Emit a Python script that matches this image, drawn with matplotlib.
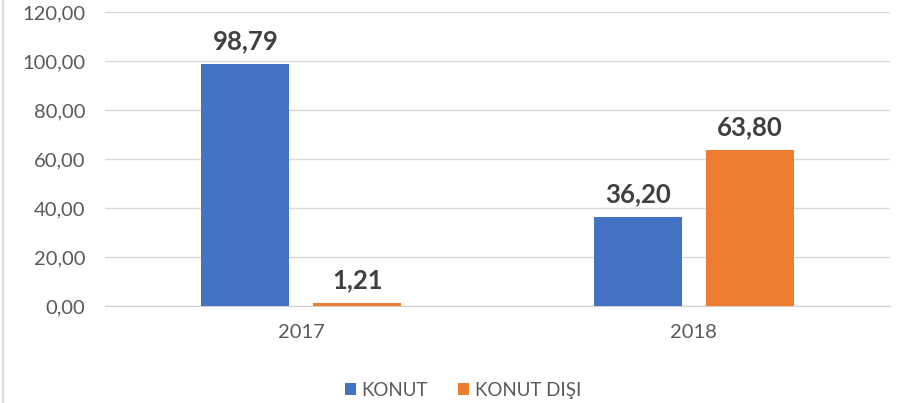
import numpy as np
import matplotlib.pyplot as plt

years = ["2017", "2018"]
konut = [98.79, 36.20]
konut_disi = [1.21, 63.80]
series_names = ["KONUT", "KONUT DIŞI"]
colors = ["#4472C4", "#ED7D31"]


def fmt(v):
    return f"{v:.2f}".replace(".", ",")


plt.rcParams["font.family"] = ["Lato", "DejaVu Sans"]

fig = plt.figure(figsize=(9.02, 4.03), dpi=100)
ax = fig.add_axes([0.1164, 0.2407, 0.8703, 0.7293])

x = np.arange(len(years))
w = 0.224
gap = 0.061
off = (w + gap) / 2

for i, (vals, name) in enumerate(zip([konut, konut_disi], series_names)):
    pos = x + (-off if i == 0 else off)
    bars = ax.bar(pos, vals, width=w, color=colors[i], label=name, zorder=3)
    for b, v in zip(bars, vals):
        ax.text(b.get_x() + b.get_width() / 2, v + 4.5, fmt(v),
                ha="center", va="bottom", fontsize=18.5, fontweight="bold",
                color="#404040")

ax.set_xlim(-0.5, 1.5)
ax.set_ylim(0, 120)
ax.set_yticks(np.arange(0, 121, 20))
ax.set_yticklabels([fmt(t) for t in np.arange(0, 121, 20)])
ax.set_xticks(x)
ax.set_xticklabels(years)
ax.tick_params(axis="both", length=0, labelsize=14.5, colors="#595959")
ax.tick_params(axis="y", pad=14)
ax.tick_params(axis="x", pad=13)
ax.grid(axis="y", color="#D9D9D9", linewidth=1, zorder=0)
for s in ["top", "right", "left"]:
    ax.spines[s].set_visible(False)
ax.spines["bottom"].set_color("#D0D0D0")

leg = ax.legend(loc="upper center", bbox_to_anchor=(0.456, -0.20), ncol=2,
                frameon=False, fontsize=13.5, handlelength=0.6,
                handleheight=0.6, handletextpad=0.3, columnspacing=1.6)
for t in leg.get_texts():
    t.set_color("#595959")

fig.add_artist(plt.Line2D([0.003, 0.003], [0, 1], color="#D9D9D9", lw=1.5,
                          transform=fig.transFigure))

fig.savefig("out.png", dpi=100)
